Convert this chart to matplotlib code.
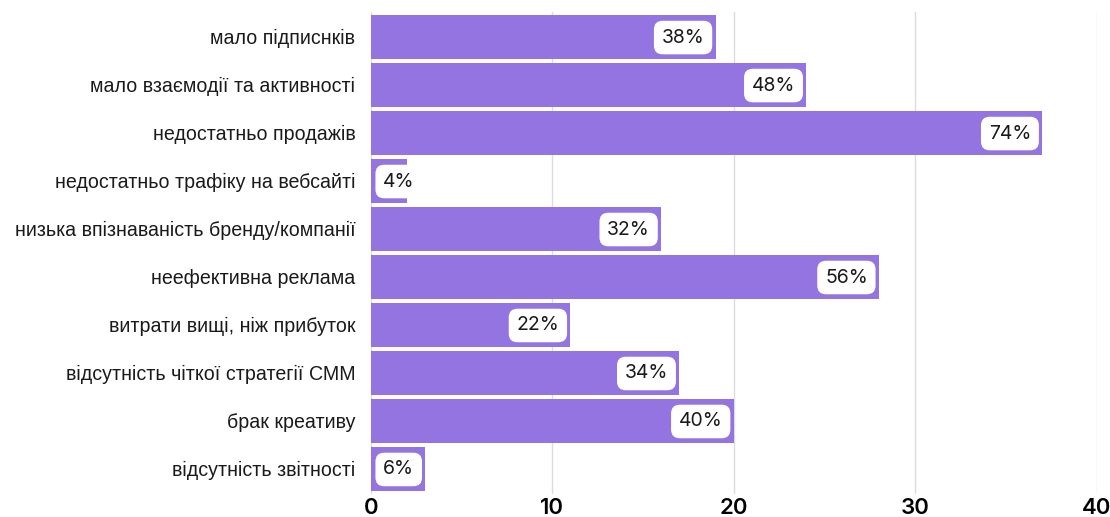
import matplotlib.pyplot as plt

categories = [
    'мало підписнків',
    'мало взаємодії та активності',
    'недостатньо продажів',
    'недостатньо трафіку на вебсайті',
    'низька впізнаваність бренду/компанії',
    'неефективна реклама',
    'витрати вищі, ніж прибуток',
    'відсутність чіткої стратегії СММ',
    'брак креативу',
    'відсутність звітності',
]
values = [19, 24, 37, 2, 16, 28, 11, 17, 20, 3]
labels = ['38%', '48%', '74%', '4%', '32%', '56%', '22%', '34%', '40%', '6%']
xticks = [0, 10, 20, 30, 40]

bar_color = '#9374E0'

fig = plt.figure(figsize=(11.1, 5.17), dpi=100)
ax = fig.add_axes([0.334, 0.045, 0.654, 0.932])

pos = list(range(len(categories)))
ax.barh(pos, values, height=0.92, color=bar_color, zorder=2)

box = dict(boxstyle='round,pad=0.4,rounding_size=0.45', fc='white', ec='none')
for p, v, lab in zip(pos, values, labels):
    if v < 5:
        ax.annotate(lab, (0, p), xytext=(9, -0.5), textcoords='offset points',
                    ha='left', va='center', fontsize=14, family='Inter',
                    color='#1a1a1a', zorder=3, bbox=box)
    else:
        ax.annotate(lab, (v, p), xytext=(-8, -0.5), textcoords='offset points',
                    ha='right', va='center', fontsize=14, family='Inter',
                    color='#1a1a1a', zorder=3, bbox=box)

ax.set_xlim(0, 40)
ax.set_ylim(9.52, -0.52)
ax.set_xticks(xticks)
ax.set_xticklabels([str(t) for t in xticks], family='Inter',
                   fontweight='semibold', fontsize=16)
ax.set_yticks(pos)
ax.set_yticklabels(categories, family='Liberation Sans', fontsize=14.1,
                   color='#1a1a1a')
ax.tick_params(axis='both', length=0)
ax.tick_params(axis='y', pad=11)
ax.tick_params(axis='x', pad=3)

ax.grid(axis='x', color='#dcdcdc', linewidth=1, zorder=0)
for s in ax.spines.values():
    s.set_visible(False)

plt.savefig('out.png', dpi=100)
